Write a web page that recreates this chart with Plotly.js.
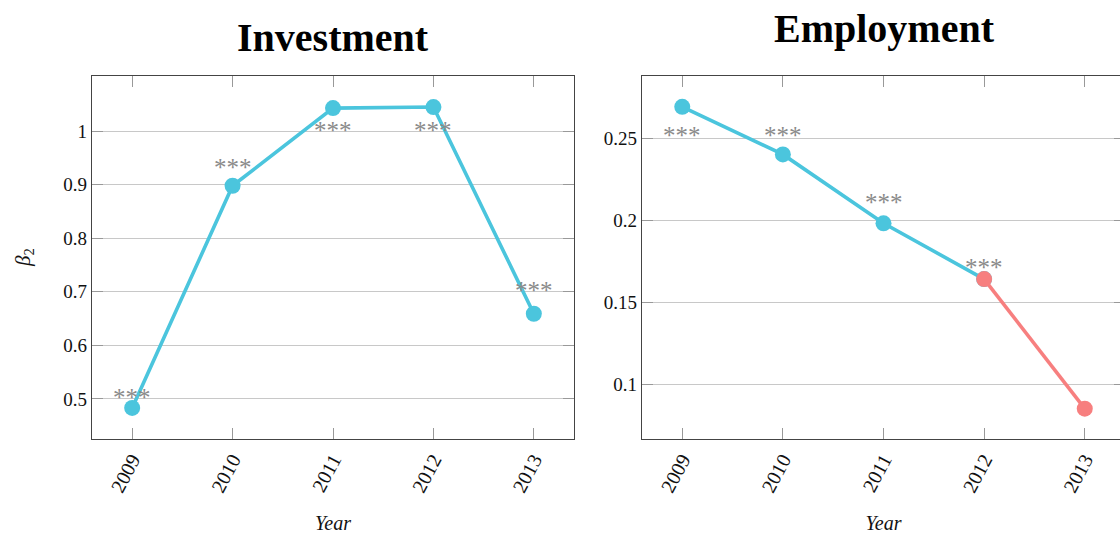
<!DOCTYPE html>
<html>
<head>
<meta charset="utf-8">
<script src="https://cdn.plot.ly/plotly-3.0.1.min.js"></script>
<style>
  html, body { margin: 0; padding: 0; overflow: hidden; background: #fff; }
  #chart { width: 1130px; height: 534px; }
</style>
</head>
<body>
<div id="chart"></div>
<script>
// Yearly coefficient estimates (beta_2) and their significance stars
const years = [2009, 2010, 2011, 2012, 2013];
const investment = [0.483, 0.898, 1.043, 1.045, 0.659];
const investmentStars = ['***', '***', '***', '***', '***'];
const employment = [0.269, 0.240, 0.198, 0.164, 0.085];
const employmentStars = ['***', '***', '***', '***', ''];

// vertical offset (px) of each star label from its marker; positive = above
const investmentStarShift = [13, 21, -19, -20, 26];
const employmentStarShift = [-26, 22, 24, 15];

const BLUE = '#4BC5DD';
const RED = '#F77F7F';
const FONT = 'Liberation Serif, DejaVu Serif, serif';

const W = 1130, H = 534;
const px = v => v / W;
const py = v => 1 - v / H;

function axisX(domain, anchor) {
  return {
    domain: domain, anchor: anchor, range: [2008.6, 2013.4],
    tickvals: years, ticktext: years.map(String), tickangle: -62,
    ticks: 'inside', ticklen: 11, tickwidth: 1, tickcolor: '#999',
    showline: true, linecolor: '#444', linewidth: 1.3, mirror: 'ticks',
    showgrid: false, zeroline: false,
    tickfont: {family: FONT, size: 20, color: '#111'},
    title: {text: '<i>Year</i>', font: {family: FONT, size: 20, color: '#111'}, standoff: 22}
  };
}
function axisY(domain, anchor, range, tickvals, ticktext) {
  return {
    domain: domain, anchor: anchor, range: range, tickvals: tickvals, ticktext: ticktext,
    ticks: 'inside', ticklen: 11, tickwidth: 1, tickcolor: '#999',
    showline: true, linecolor: '#444', linewidth: 1.3, mirror: 'ticks',
    showgrid: true, gridcolor: '#c8c8c8', gridwidth: 1, zeroline: false,
    tickfont: {family: FONT, size: 19, color: '#111'}
  };
}

function lineTrace(xs, ys, color, xa, ya) {
  return {
    x: xs, y: ys, xaxis: xa, yaxis: ya, type: 'scatter', mode: 'lines+markers',
    line: {color: color, width: 3.6}, marker: {color: color, size: 16},
    showlegend: false, hoverinfo: 'x+y', cliponaxis: false
  };
}

// split employment where significance is lost: last significant point starts the red segment
const cut = employmentStars.indexOf('');
const traces = [
  lineTrace(years, investment, BLUE, 'x', 'y'),
  lineTrace(years.slice(0, cut), employment.slice(0, cut), BLUE, 'x2', 'y2'),
  lineTrace(years.slice(cut - 1), employment.slice(cut - 1), RED, 'x2', 'y2')
];

function starNotes(vals, stars, shifts, xa, ya) {
  const out = [];
  vals.forEach((v, i) => {
    if (!stars[i]) return;
    out.push({
      x: years[i], y: v, xref: xa, yref: ya, text: stars[i], showarrow: false,
      xanchor: 'center', yanchor: 'middle',
      yshift: shifts[i] - 3, font: {family: FONT, size: 25, color: '#8a8a8a'}
    });
  });
  return out;
}

const titleFont = {family: FONT, size: 40, color: '#000'};
const annotations = [
  ...starNotes(investment, investmentStars, investmentStarShift, 'x', 'y'),
  ...starNotes(employment, employmentStars, employmentStarShift, 'x2', 'y2'),
  {text: '<b>Investment</b>', x: px(333), y: py(37), xref: 'paper', yref: 'paper',
   xanchor: 'center', yanchor: 'middle', showarrow: false, font: titleFont},
  {text: '<b>Employment</b>', x: px(884), y: py(28), xref: 'paper', yref: 'paper',
   xanchor: 'center', yanchor: 'middle', showarrow: false, font: titleFont},
  {text: '<i>β</i><sub>2</sub>', x: px(24), y: py(258), xref: 'paper', yref: 'paper',
   xanchor: 'center', yanchor: 'middle',
   showarrow: false, textangle: -90, font: {family: FONT, size: 21, color: '#111'}}
];

const yDom = [py(439), py(76)];
const layout = {
  width: W, height: H, margin: {l: 0, r: 0, t: 0, b: 0},
  paper_bgcolor: '#fff', plot_bgcolor: '#fff', showlegend: false,
  xaxis: axisX([px(92), px(574)], 'y'),
  yaxis: axisY(yDom, 'x', [0.425, 1.103], [0.5, 0.6, 0.7, 0.8, 0.9, 1], ['0.5', '0.6', '0.7', '0.8', '0.9', '1']),
  xaxis2: axisX([px(642), px(1125)], 'y2'),
  yaxis2: axisY(yDom, 'x2', [0.0665, 0.2878], [0.1, 0.15, 0.2, 0.25], ['0.1', '0.15', '0.2', '0.25']),
  annotations: annotations
};

Plotly.newPlot('chart', traces, layout, {displayModeBar: false, staticPlot: true});
</script>
</body>
</html>
